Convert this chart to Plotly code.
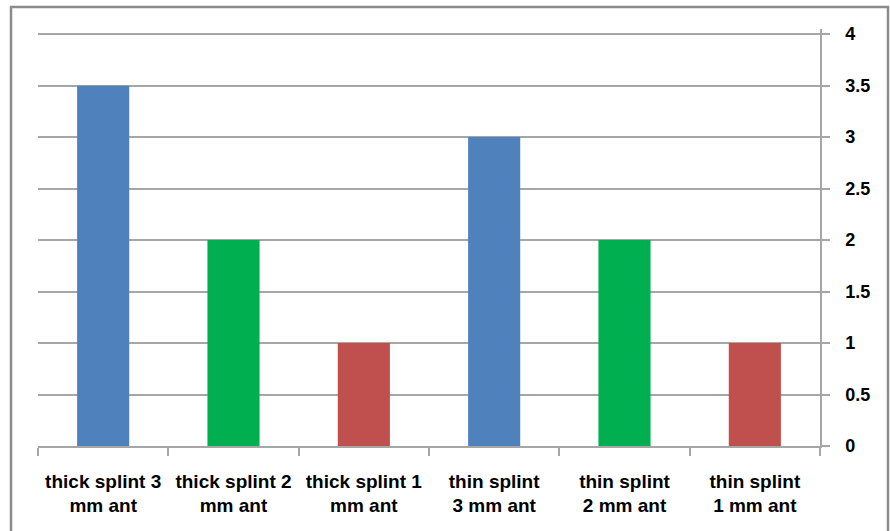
import plotly.graph_objects as go

# Splint groups and measured values
categories = [
    "thick splint 3 mm ant",
    "thick splint 2 mm ant",
    "thick splint 1 mm ant",
    "thin splint 3 mm ant",
    "thin splint 2 mm ant",
    "thin splint 1 mm ant",
]
tick_labels = [
    "thick splint 3<br>mm ant",
    "thick splint 2<br>mm ant",
    "thick splint 1<br>mm ant",
    "thin splint<br>3 mm ant",
    "thin splint<br>2 mm ant",
    "thin splint<br>1 mm ant",
]
values = [3.5, 2, 1, 3, 2, 1]
bar_colors = ["#4F81BD", "#00B050", "#C0504D", "#4F81BD", "#00B050", "#C0504D"]

y_ticks = [0, 0.5, 1, 1.5, 2, 2.5, 3, 3.5, 4]
y_tick_text = ["0", "0.5", "1", "1.5", "2", "2.5", "3", "3.5", "4"]

FONT = "Liberation Sans, Arial, sans-serif"
GRID = "#A6A6A6"

TOP, BOTTOM, LEFT, RIGHT = 29, 85, 38, 70
Y_MAX = 4.05
plot_h = 531 - TOP - BOTTOM
plot_w = 890 - LEFT - RIGHT

fig = go.Figure(
    go.Bar(
        x=categories,
        y=values,
        marker=dict(color=bar_colors, line=dict(width=0)),
        width=0.4,
        showlegend=False,
    )
)

fig.update_layout(
    width=890,
    height=531,
    margin=dict(l=LEFT, r=RIGHT, t=TOP, b=BOTTOM),
    paper_bgcolor="white",
    plot_bgcolor="white",
    font=dict(family=FONT, size=18, color="black"),
    shapes=[
        # outer chart frame
        dict(
            type="rect",
            xref="paper", yref="paper",
            x0=(11 - LEFT) / plot_w, x1=(888 - LEFT) / plot_w,
            y0=((531 - BOTTOM) - 545) / plot_h, y1=((531 - BOTTOM) - 7) / plot_h,
            line=dict(color="#8C8C8C", width=2.5),
            fillcolor="rgba(0,0,0,0)",
            layer="above",
        )
    ],
)

fig.update_xaxes(
    type="category",
    tickmode="array",
    tickvals=categories,
    ticktext=tick_labels,
    tickson="boundaries",
    ticks="outside",
    ticklen=8,
    tickcolor=GRID,
    tickwidth=1.5,
    showline=True,
    linecolor=GRID,
    linewidth=1.5,
    showgrid=False,
    tickfont=dict(family=FONT, size=19, color="black", weight="bold"),
    ticklabelstandoff=17,
)

fig.update_yaxes(
    side="right",
    range=[0, Y_MAX],
    tickmode="array",
    tickvals=y_ticks,
    ticktext=y_tick_text,
    ticks="outside",
    ticklen=8,
    tickcolor=GRID,
    tickwidth=1.5,
    showline=True,
    linecolor=GRID,
    linewidth=1.5,
    showgrid=True,
    gridcolor=GRID,
    gridwidth=1.5,
    zeroline=False,
    tickfont=dict(family=FONT, size=18, color="black", weight="bold"),
    ticklabelstandoff=12,
)

fig.write_html("out.html")
